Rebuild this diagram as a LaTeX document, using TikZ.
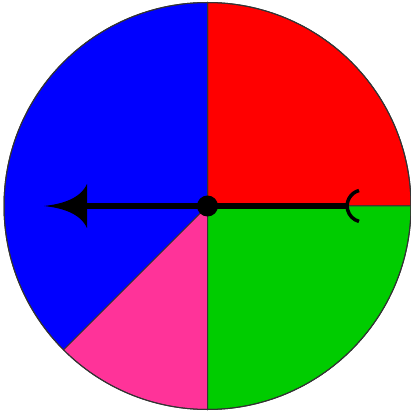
\documentclass[tikz,border=0pt]{standalone}
\definecolor{spred}{RGB}{255,0,0}
\definecolor{spblue}{RGB}{0,0,255}
\definecolor{sppink}{RGB}{255,51,153}
\definecolor{spgreen}{RGB}{0,204,0}
\tikzset{sector/.style={draw=black!80,line width=1pt,line join=round}}
\begin{document}
\begin{tikzpicture}[x=1pt,y=-1pt]
\useasboundingbox (0,0) rectangle (411,411);
\coordinate (c) at (207.5,206);
\def\R{203.5}
\fill[white] (0,0) rectangle (411,411);
% sectors (y axis flipped: angle a -> pixel angle -a)
\filldraw[sector,fill=spred] (c) -- ++(0:\R) arc[start angle=0,end angle=-90,radius=\R] -- cycle;
\filldraw[sector,fill=spblue] (c) -- ++(-90:\R) arc[start angle=-90,end angle=-225,radius=\R] -- cycle;
\filldraw[sector,fill=sppink] (c) -- ++(-225:\R) arc[start angle=-225,end angle=-270,radius=\R] -- cycle;
\filldraw[sector,fill=spgreen] (c) -- ++(-270:\R) arc[start angle=-270,end angle=-360,radius=\R] -- cycle;
\draw[black!80,line width=1pt] (c) circle[radius=\R];
% pointer
\coordinate (tip) at (44,206);
\coordinate (tail) at (347,206);
\draw[line width=6pt] (c) -- (82,206);
\draw[line width=5.5pt] (c) -- (tail);
\fill (tip) .. controls (62,204) and (80,199) .. (87,184) -- (87,228) .. controls (80,213) and (62,208) .. (tip) -- cycle;
\draw[line width=3.5pt] (359,190.5) arc[start angle=-105,end angle=-255,radius=16];
\node[circle,fill=black,minimum size=21pt,inner sep=0pt] (pivot) at (c) {};
\end{tikzpicture}
\end{document}
